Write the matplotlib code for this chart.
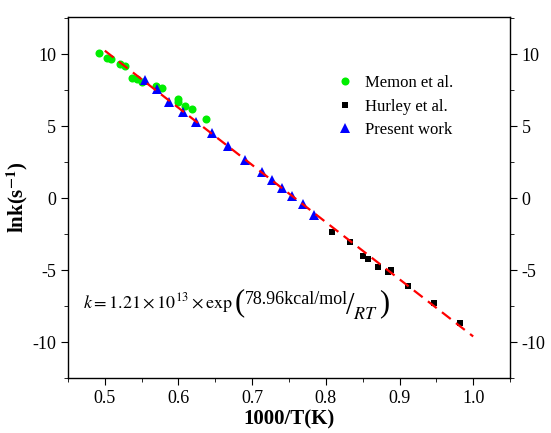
import matplotlib
matplotlib.use("Agg")
import matplotlib.pyplot as plt
from matplotlib.ticker import MultipleLocator

plt.rcParams['font.family'] = ['Liberation Serif', 'DejaVu Serif']
plt.rcParams['mathtext.fontset'] = 'stix'

# Memon et al.
memon_x = [0.492, 0.503, 0.509, 0.521, 0.528, 0.537, 0.543, 0.551, 0.570, 0.578,
           0.599, 0.600, 0.609, 0.619, 0.638]
memon_y = [10.07, 9.77, 9.65, 9.30, 9.18, 8.38, 8.30, 8.07, 7.80, 7.68,
           6.91, 6.68, 6.40, 6.20, 5.52]

# Hurley et al.
hurley_x = [0.809, 0.833, 0.851, 0.857, 0.871, 0.884, 0.889, 0.912, 0.9475, 0.982]
hurley_y = [-2.36, -3.08, -4.05, -4.22, -4.80, -5.15, -4.98, -6.08, -7.26, -8.65]

# Present work
present_x = [0.5546, 0.5705, 0.587, 0.6055, 0.624, 0.645, 0.667, 0.690, 0.714,
             0.727, 0.740, 0.754, 0.769, 0.784]
present_y = [8.19, 7.56, 6.70, 5.98, 5.28, 4.54, 3.61, 2.68, 1.80,
             1.24, 0.71, 0.13, -0.38, -1.15]

# Arrhenius fit line (end points)
fit_x = [0.50, 1.00]
fit_y = [10.25, -9.61]

fig = plt.figure(figsize=(5.51, 4.33), dpi=100)
ax = fig.add_axes([0.1234, 0.127, 0.8022, 0.834])

ax.plot(fit_x, fit_y, color='red', linestyle=(0, (5, 3)), linewidth=1.6, zorder=3)
ax.plot(memon_x, memon_y, 'o', color='#00ee00', markersize=5.8, markeredgewidth=0,
        label='Memon et al.', zorder=2)
ax.plot(hurley_x, hurley_y, 's', color='black', markersize=5, markeredgewidth=0,
        label='Hurley et al.', zorder=2)
ax.plot(present_x, present_y, '^', color='blue', markersize=7, markeredgewidth=0,
        label='Present work', zorder=2)

ax.set_xlim(0.45, 1.05)
ax.set_ylim(-12.5, 12.6)
ax.xaxis.set_major_locator(MultipleLocator(0.1))
ax.xaxis.set_minor_locator(MultipleLocator(0.05))
ax.yaxis.set_major_locator(MultipleLocator(5))
ax.yaxis.set_minor_locator(MultipleLocator(2.5))
ax.tick_params(which='both', direction='out', top=False, right=True,
               labelright=True, labelsize=13)
ax.tick_params(which='major', length=5)
ax.tick_params(which='minor', length=3)
ax.set_yticklabels([str(int(v)) for v in ax.get_yticks()])
for s in ax.spines.values():
    s.set_linewidth(1.0)

ax.set_xlabel('1000/T(K)', fontsize=15, fontweight='bold', labelpad=2)
ax.set_ylabel(r'lnk(s$^{\mathbf{-1}}$)', fontsize=15, fontweight='bold', labelpad=2)

ax.legend(loc='upper left', bbox_to_anchor=(0.57, 0.88), frameon=False, fontsize=12,
          handletextpad=0.6, labelspacing=0.45, handlelength=1.2)

# equation
fs = 13
t1 = ax.text(0.471, -7.3, r'$k=1.21\times10^{13}\times\mathrm{exp}$', fontsize=fs,
             va='center', ha='left')
t2 = ax.annotate('(', xy=(1, 0.5), xycoords=t1, xytext=(1, 0), textcoords='offset points',
                 fontsize=22, va='center', ha='left')
t3 = ax.annotate('78.96kcal/mol', xy=(1, 0.5), xycoords=t2, xytext=(0, 3),
                 textcoords='offset points', fontsize=fs, va='center', ha='left')
t4 = ax.annotate('/', xy=(1, 0.5), xycoords=t3, xytext=(-1, -5.5),
                 textcoords='offset points', fontsize=22, va='center', ha='left')
t5 = ax.annotate(r'$RT$', xy=(1, 0.5), xycoords=t4, xytext=(-1, -5.5),
                 textcoords='offset points', fontsize=fs, va='center', ha='left')
t6 = ax.annotate(')', xy=(1, 0.5), xycoords=t5, xytext=(1, 7.5),
                 textcoords='offset points', fontsize=22, va='center', ha='left')

fig.savefig('out.png', dpi=100)
